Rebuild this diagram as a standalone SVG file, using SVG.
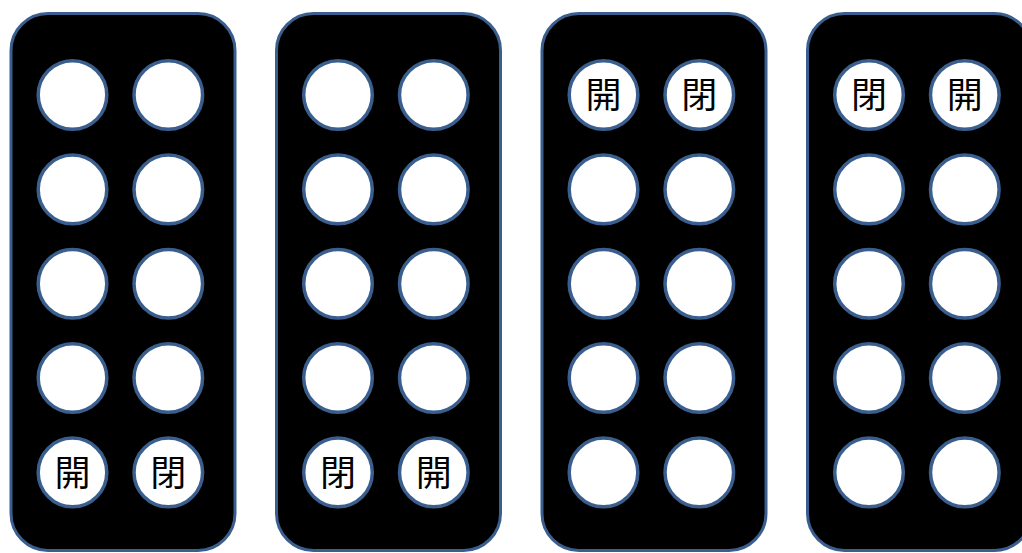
<svg xmlns="http://www.w3.org/2000/svg" width="1022" height="553" viewBox="0 0 1022 553">
<style>
.panel{fill:#000;stroke:#3A5F8E;stroke-width:3}
.btn{fill:#fff;stroke:#3A5F8E;stroke-width:3.5}
.lbl{font-family:"Noto Sans CJK JP","Noto Sans CJK SC",sans-serif;font-size:36px;fill:#000;text-anchor:middle}
</style>
<defs>
<g id="btns">
<circle class="btn" cx="61.5" cy="95" r="34.3"/>
<circle class="btn" cx="157.3" cy="95" r="34.3"/>
<circle class="btn" cx="61.5" cy="189.4" r="34.3"/>
<circle class="btn" cx="157.3" cy="189.4" r="34.3"/>
<circle class="btn" cx="61.5" cy="283.7" r="34.3"/>
<circle class="btn" cx="157.3" cy="283.7" r="34.3"/>
<circle class="btn" cx="61.5" cy="378" r="34.3"/>
<circle class="btn" cx="157.3" cy="378" r="34.3"/>
<circle class="btn" cx="61.5" cy="472.4" r="34.3"/>
<circle class="btn" cx="157.3" cy="472.4" r="34.3"/>
</g>
</defs>
<g id="remote1" transform="translate(11,0)">
<rect class="panel" x="0" y="13.5" width="224" height="537" rx="37"/>
<use href="#btns"/>
<text class="lbl" x="61.5" y="485.5">開</text>
<text class="lbl" x="157.3" y="485.5">閉</text>
</g>
<g id="remote2" transform="translate(276.5,0)">
<rect class="panel" x="0" y="13.5" width="224" height="537" rx="37"/>
<use href="#btns"/>
<text class="lbl" x="61.5" y="485.5">閉</text>
<text class="lbl" x="157.3" y="485.5">開</text>
</g>
<g id="remote3" transform="translate(542,0)">
<rect class="panel" x="0" y="13.5" width="224" height="537" rx="37"/>
<use href="#btns"/>
<text class="lbl" x="61.5" y="108">開</text>
<text class="lbl" x="157.3" y="108">閉</text>
</g>
<g id="remote4" transform="translate(807.5,0)">
<rect class="panel" x="0" y="13.5" width="224" height="537" rx="37"/>
<use href="#btns"/>
<text class="lbl" x="61.5" y="108">閉</text>
<text class="lbl" x="157.3" y="108">開</text>
</g>
<g id="connectors"/>
</svg>
